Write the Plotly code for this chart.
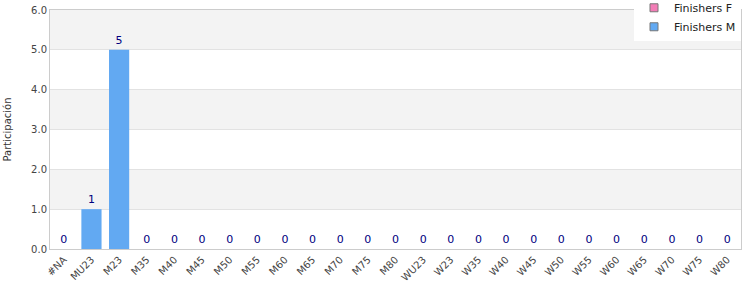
import plotly.graph_objects as go

categories = ["#NA", "MU23", "M23", "M35", "M40", "M45", "M50", "M55", "M60", "M65",
              "M70", "M75", "M80", "WU23", "W23", "W35", "W40", "W45", "W50", "W55",
              "W60", "W65", "W70", "W75", "W80"]
finishers_m = [0, 1, 5, 0, 0, 0, 0, 0, 0, 0, 0, 0, 0, 0, 0, 0, 0, 0, 0, 0, 0, 0, 0, 0, 0]
finishers_f = [0] * len(categories)
y_ticks = [0, 1, 2, 3, 4, 5, 6]
col_f = "#f27db6"
col_m = "#62a9f2"

fig = go.Figure()
fig.add_trace(go.Bar(x=categories, y=finishers_f, name="Finishers F", showlegend=False,
                     marker=dict(color=col_f, line=dict(width=0)), hoverinfo="skip"))
fig.add_trace(go.Bar(x=categories, y=finishers_m, name="Finishers M", showlegend=False,
                     marker=dict(color=col_m, line=dict(width=0)),
                     text=[str(v) for v in finishers_m], textposition="outside",
                     textfont=dict(color="#000080", size=11), cliponaxis=False))
for nm, c in [("Finishers F", col_f), ("Finishers M", col_m)]:
    fig.add_trace(go.Scatter(x=[None], y=[None], mode="markers", name=nm,
                             marker=dict(symbol="square", size=8, color=c,
                                         line=dict(color="#777", width=1))))

shapes = []
for i in range(len(y_ticks) - 1):
    if (i % 2) == 1:
        shapes.append(dict(type="rect", xref="paper", yref="y", x0=0, x1=1,
                           y0=y_ticks[i], y1=y_ticks[i + 1], fillcolor="#f3f3f3",
                           line=dict(width=0), layer="below"))

fig.update_layout(
    width=750, height=300,
    margin=dict(l=50, r=9, t=10, b=51, autoexpand=False),
    paper_bgcolor="white", plot_bgcolor="white",
    barmode="overlay", bargap=0.27,
    font=dict(family="DejaVu Sans", size=10, color="#444"),
    shapes=shapes,
    showlegend=True,
    legend=dict(x=1, xanchor="right", y=1.07, yanchor="top", bgcolor="white",
                font=dict(size=11, color="#222"), traceorder="normal",
                itemwidth=30, tracegroupgap=0),
    xaxis=dict(tickangle=-45, tickfont=dict(size=10, color="#444"), showline=True,
               linecolor="#ccc", mirror=True, ticks="", showgrid=False),
    yaxis=dict(range=[0, 6], tickvals=y_ticks, tickformat=".1f", showgrid=True,
               gridcolor="#e2e2e2", showline=True, linecolor="#ccc", mirror=True,
               zeroline=False, title=dict(text="Participación", font=dict(size=10, color="#333"), standoff=17),
               tickfont=dict(size=10, color="#444")),
)

fig.write_html("out.html")
